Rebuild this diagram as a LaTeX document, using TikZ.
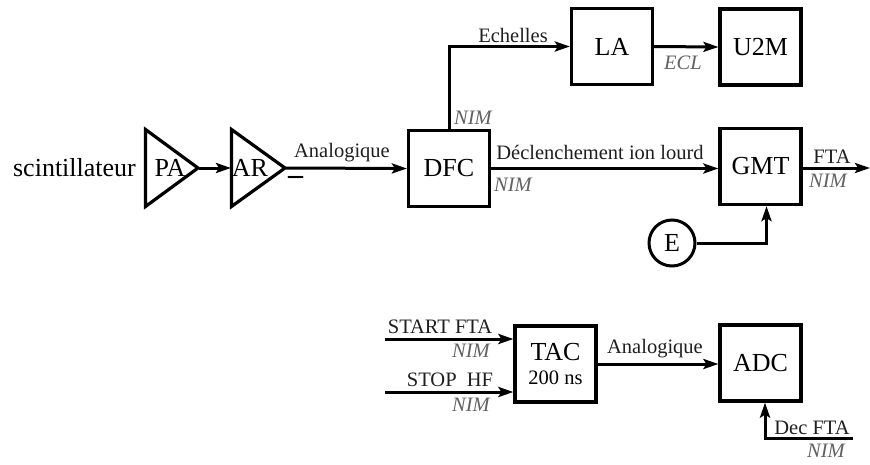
\documentclass[tikz,border=0pt]{standalone}
\usepackage{fontspec}
\setmainfont{Liberation Serif}
\usetikzlibrary{arrows.meta}
\begin{document}
\begin{tikzpicture}[x=1pt,y=-1pt,
  box/.style={draw,line width=3.2pt,minimum width=81pt,minimum height=76pt,inner sep=0pt,font=\fontsize{26}{28}\selectfont},
  amp/.style={line width=3.2pt,line join=miter},
  wire/.style={line width=3pt,-{Stealth[length=15pt,width=10pt,inset=3pt]}},
  big/.style={inner sep=0pt,anchor=base,font=\fontsize{26}{28}\selectfont},
  lbl/.style={inner sep=0pt,anchor=base,text=black!88,font=\fontsize{20.5}{22}\selectfont},
  nim/.style={inner sep=0pt,anchor=base,text=black!62,font=\fontsize{20.5}{22}\selectfont\itshape}]
\useasboundingbox (0,0) rectangle (870,464);

% amplifiers
\draw[amp] (145.5,129.5) -- (145.5,206.5) -- (198,168) -- cycle;
\draw[amp] (231.5,129.5) -- (231.5,206.5) -- (285,168) -- cycle;
\coordinate (paout) at (199,168);
\coordinate (arin) at (231,168);
\coordinate (arout) at (286,168);
\node[big] (scint) at (74.5,176) {scintillateur};
\node[big] (pa) at (170,176) {PA};
\node[big] (ar) at (250,176) {AR};

% boxes
\node[box] (dfc) at (449,168.5) {DFC};
\node[box] (la) at (612,46.5) {LA};
\node[box] (u2m) at (760.5,47) {U2M};
\node[box] (gmt) at (760.5,166.5) {GMT};
\node[draw,circle,line width=3pt,minimum size=46pt,inner sep=0pt,font=\fontsize{26}{28}\selectfont] (e) at (672,243) {E};
\node[box,align=center] (tac) at (555.5,364) {TAC\\[-4pt]{\fontsize{20.5}{22}\selectfont 200 ns}};
\node[box] (adc) at (760.5,363) {ADC};

% connectors
\draw[wire] (paout) -- (arin);
\draw[wire] (arout) -- (dfc.west);
\draw[wire] (dfc.north) |- (la.west);
\draw[wire] (la.east) -- (u2m.west);
\draw[wire] (dfc.east) -- (dfc.east -| gmt.west);
\coordinate (fta) at (870,168);
\draw[wire] (gmt.east |- fta) -- (fta);
\draw[wire] (e.east) -| ([xshift=6pt]gmt.south);

\coordinate (start) at (385,339);
\coordinate (stop) at (385,392);
\coordinate (dec) at (853,438);
\draw[wire] (start) -- (start -| tac.west);
\draw[wire] (stop) -- (stop -| tac.west);
\draw[wire] (tac.east) -- (tac.east -| adc.west);
\draw[wire] (dec) -| ([xshift=4.5pt]adc.south);

% labels
\node[lbl] (l1) at (342,157) {Analogique};
\node[inner sep=0pt,font=\fontsize{30}{30}\selectfont\bfseries] (minus) at (295.5,180) {–};
\node[lbl] (l2) at (513,42.5) {Echelles};
\node[nim] (n1) at (473,124) {NIM};
\node[nim] (ecl) at (683,69) {ECL};
\node[lbl] (l3) at (600,159) {Déclenchement ion lourd};
\node[nim] (n2) at (513,191) {NIM};
\node[lbl] (l4) at (832,163) {FTA};
\node[nim] (n3) at (828,187) {NIM};

\node[lbl] (l5) at (440,333) {START FTA};
\node[nim] (n4) at (471,357) {NIM};
\node[lbl] (l6) at (450,386) {STOP\ \ HF};
\node[nim] (n5) at (471,411) {NIM};
\node[lbl] (l7) at (655,353) {Analogique};
\node[lbl] (l8) at (812,434) {Dec FTA};
\node[nim] (n6) at (826,457) {NIM};
\end{tikzpicture}
\end{document}
